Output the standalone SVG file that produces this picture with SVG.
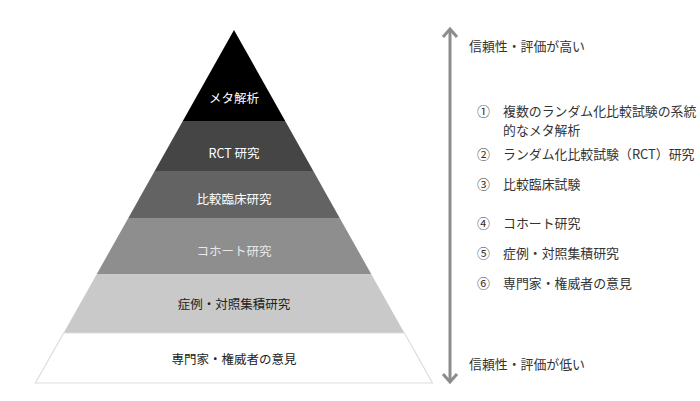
<svg xmlns="http://www.w3.org/2000/svg" width="700" height="401" viewBox="0 0 700 401">
<style>
text{font-family:"Noto Sans CJK JP","Noto Sans",sans-serif;font-size:12.5px}
.c{text-anchor:middle;dominant-baseline:central}
.w{fill:#ffffff}
.k{fill:#222222}
.r{fill:#333333;dominant-baseline:central;font-size:12.9px}
</style>
<rect width="700" height="401" fill="#ffffff"/>
<g id="level1">
<polygon points="234,30 285.2,121 182.8,121" fill="#000000"/>
<text class="c w" x="234" y="97">メタ解析</text>
</g>
<g id="level2">
<polygon points="182.8,121 285.2,121 313.3,171 154.7,171" fill="#454545"/>
<text class="c w" x="234" y="152">RCT 研究</text>
</g>
<g id="level3">
<polygon points="154.7,171 313.3,171 339.7,218 128.3,218" fill="#636363"/>
<text class="c w" x="234" y="198">比較臨床研究</text>
</g>
<g id="level4">
<polygon points="128.3,218 339.7,218 371.2,274 96.8,274" fill="#8e8e8e"/>
<text class="c" x="234" y="250" fill="#e8e8e8">コホート研究</text>
</g>
<g id="level5">
<polygon points="96.8,274 371.2,274 404.4,333 63.6,333" fill="#c9c9c9"/>
<text class="c k" x="234" y="303">症例・対照集積研究</text>
</g>
<g id="level6">
<polygon points="63.6,333 404.4,333 432.5,383 35.5,383 Z" fill="#ffffff" stroke="#dddddd" stroke-width="1.2"/>
<text class="c k" x="234" y="358">専門家・権威者の意見</text>
</g>
<g id="connectors" stroke="#8c8c8c" stroke-width="3" fill="none">
<line x1="450" y1="29" x2="450" y2="382"/>
<polyline points="443,37 450,29 457,37"/>
<polyline points="443,374 450,382 457,374"/>
</g>
<g id="labels">
<text class="r" x="469" y="45">信頼性・評価が高い</text>
<text class="r" x="469" y="363">信頼性・評価が低い</text>
<text class="r" x="477" y="110">①</text>
<text class="r" x="503" y="110">複数のランダム化比較試験の系統</text>
<text class="r" x="503" y="129">的なメタ解析</text>
<text class="r" x="477" y="153">②</text>
<text class="r" x="503" y="153">ランダム化比較試験（RCT）研究</text>
<text class="r" x="477" y="183">③</text>
<text class="r" x="503" y="183">比較臨床試験</text>
<text class="r" x="477" y="222">④</text>
<text class="r" x="503" y="222">コホート研究</text>
<text class="r" x="477" y="252">⑤</text>
<text class="r" x="503" y="252">症例・対照集積研究</text>
<text class="r" x="477" y="282">⑥</text>
<text class="r" x="503" y="282">専門家・権威者の意見</text>
</g>
</svg>
